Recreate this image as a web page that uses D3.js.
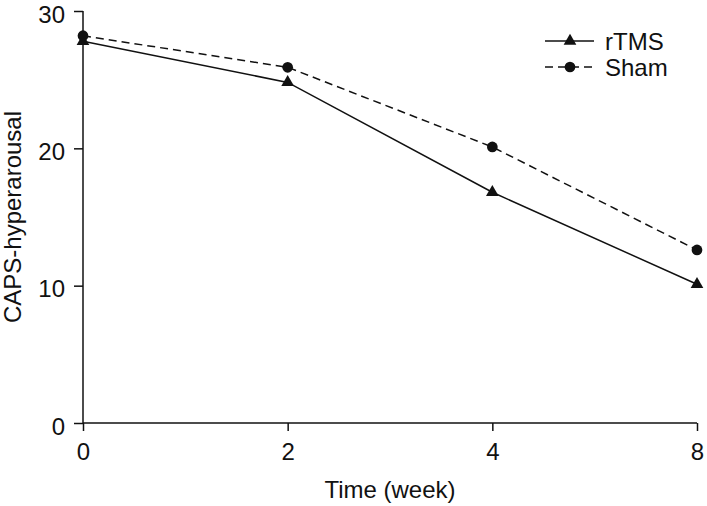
<!DOCTYPE html>
<html><head><meta charset="utf-8">
<script src="https://cdn.jsdelivr.net/npm/d3@7"></script>
<style>body{margin:0;background:#fff}svg{display:block}text{font-family:"Liberation Sans",Arial,sans-serif;fill:#111}</style>
</head><body>
<svg id="c" width="707" height="506"></svg>
<script>
const weeks = ["0","2","4","8"];
const rTMS = [27.8, 24.8, 16.8, 10.1];
const sham = [28.2, 25.9, 20.1, 12.6];
const yTicks = [0,10,20,30];
const seriesNames = ["rTMS","Sham"];

const svg = d3.select("#c");
const m = {l:83, r:10, t:11, b:83};
const W = 707, H = 506;
const FS = "24px";
const x = d3.scalePoint().domain(weeks).range([m.l, W - m.r]);
const y = d3.scaleLinear().domain([0,30]).range([H - m.b, m.t]);

const ax = svg.append("g").attr("transform",`translate(0,${H-m.b})`)
  .call(d3.axisBottom(x).tickSize(8).tickPadding(12));
const ay = svg.append("g").attr("transform",`translate(${m.l},0)`)
  .call(d3.axisLeft(y).tickValues(yTicks).tickSize(9).tickPadding(9));
[ax,ay].forEach(g=>{
  g.selectAll("path").attr("stroke","#111").attr("stroke-width",1.5);
  g.selectAll("line").attr("stroke","#111").attr("stroke-width",1.5);
  g.selectAll("text").style("font-size",FS).attr("fill","#111");
});
ay.selectAll("text").attr("dy","0.46em");
ax.select(".domain").attr("d",`M${m.l},0H${W-m.r}`);
ay.select(".domain").attr("d",`M0,${m.t}V${H-m.b}`);

svg.append("text").attr("x",(m.l+W-m.r)/2).attr("y",498).attr("text-anchor","middle")
  .style("font-size",FS).text("Time (week)");
svg.append("text").attr("transform",`translate(21,${(m.t+H-m.b)/2}) rotate(-90)`)
  .attr("text-anchor","middle").style("font-size",FS).text("CAPS-hyperarousal");

const line = d3.line().x((d,i)=>x(weeks[i])).y(d=>y(d));
svg.append("path").datum(sham).attr("d",line).attr("fill","none").attr("stroke","#111")
  .attr("stroke-width",1.5).attr("stroke-dasharray","8,5");
svg.append("path").datum(rTMS).attr("d",line).attr("fill","none").attr("stroke","#111")
  .attr("stroke-width",1.5);

const tri = d3.symbol().type(d3.symbolTriangle).size(70);
const cir = d3.symbol().type(d3.symbolCircle).size(90);
svg.selectAll(".tri").data(rTMS).join("path").attr("d",tri)
  .attr("transform",(d,i)=>`translate(${x(weeks[i])},${y(d)})`).attr("fill","#111");
svg.selectAll(".cir").data(sham).join("path").attr("d",cir)
  .attr("transform",(d,i)=>`translate(${x(weeks[i])},${y(d)})`).attr("fill","#111");

const lg = svg.append("g");
[[seriesNames[0], null, tri, 41],[seriesNames[1], "8,5", cir, 67]].forEach(([n,dash,sym,yy])=>{
  lg.append("line").attr("x1",545).attr("x2",594).attr("y1",yy).attr("y2",yy)
    .attr("stroke","#111").attr("stroke-width",1.5).attr("stroke-dasharray",dash);
  lg.append("path").attr("d",sym).attr("transform",`translate(570,${yy})`).attr("fill","#111");
  lg.append("text").attr("x",605).attr("y",yy+9).style("font-size",FS).text(n);
});
</script>
</body></html>
